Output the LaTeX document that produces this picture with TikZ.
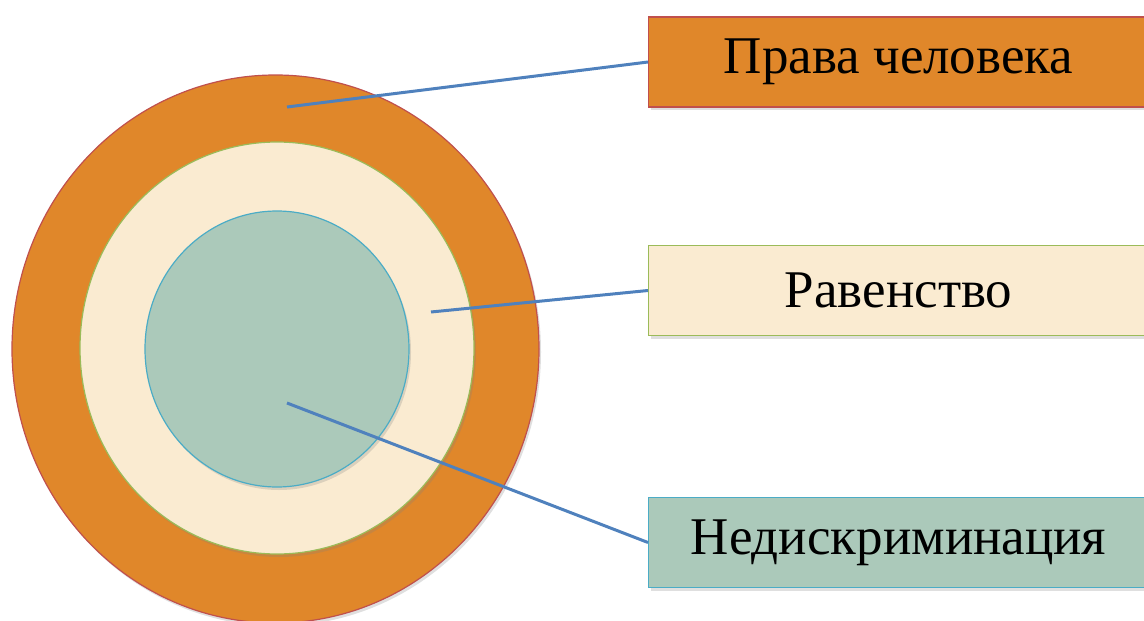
\documentclass[tikz,border=0pt]{standalone}
\usepackage{fontspec}
\setmainfont{Liberation Serif}
\usetikzlibrary{shapes,shadows}
\definecolor{pravafill}{HTML}{E0872A}
\definecolor{pravaline}{HTML}{C0504D}
\definecolor{ravenfill}{HTML}{FAEBD1}
\definecolor{ravenline}{HTML}{9BBB59}
\definecolor{nediskfill}{HTML}{ABC9BA}
\definecolor{nediskline}{HTML}{4BACC6}
\definecolor{linkblue}{HTML}{4F81BD}

\begin{document}
\begin{tikzpicture}[x=1pt, y=-1pt,
		ring/.style={line width=1.2pt, drop shadow={shadow xshift=2pt, shadow yshift=-3pt, opacity=.25}},
		lbox/.style={draw, line width=1.2pt, rectangle, anchor=west, minimum width=500pt, minimum height=90pt,
			font=\fontsize{53}{60}\selectfont, drop shadow={shadow xshift=2pt, shadow yshift=-3pt, opacity=.25}},
		link/.style={linkblue, line width=3pt}]
	\useasboundingbox (0,0) rectangle (1144,621);
			\draw[ring, pravaline, fill=pravafill] (275.5,349) ellipse [x radius=263.5pt, y radius=274pt];
			\draw[ring, ravenline, fill=ravenfill] (277,348) ellipse [x radius=197pt, y radius=206pt];
			\draw[ring, nediskline, fill=nediskfill] (277,349) ellipse [x radius=132pt, y radius=138pt];
				\coordinate (pravapt) at (287,107);
				\coordinate (ravenpt) at (431,312);
				\coordinate (nediskpt) at (287,403);
				\node[lbox, pravaline, fill=pravafill, text=black] (prava) at (648,62) {Права человека};
				\node[lbox, ravenline, fill=ravenfill, text=black] (raven) at (648,290.5) {Равенство};
				\node[lbox, nediskline, fill=nediskfill, text=black] (nedisk) at (648,542.5) {Недискриминация};
					\draw[link] (pravapt) -- (prava.west);
					\draw[link] (ravenpt) -- (raven.west);
					\draw[link] (nediskpt) -- (nedisk.west);
\end{tikzpicture}
\end{document}
